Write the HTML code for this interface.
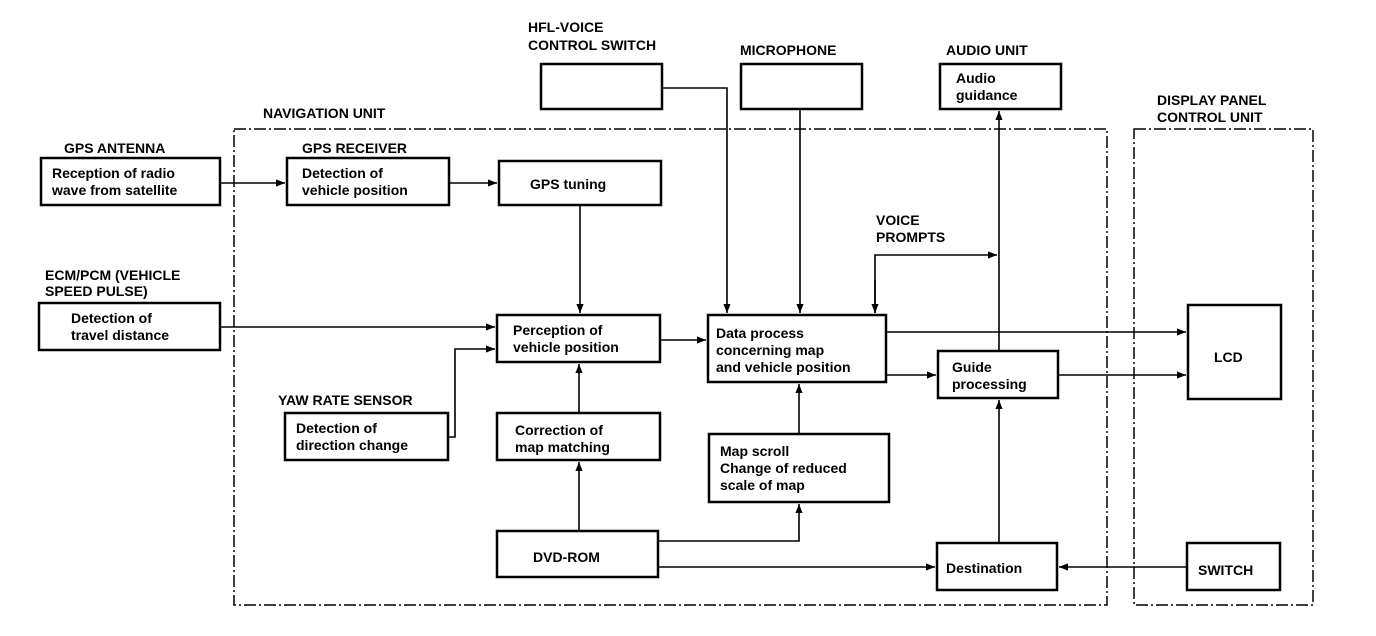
<!DOCTYPE html>
<html><head><meta charset="utf-8"><style>
html,body{margin:0;padding:0;background:#fff;}
svg{display:block;}
text{font-family:"Liberation Sans",Arial,sans-serif;font-weight:bold;font-size:14px;fill:#000;}
.b{fill:#fff;stroke:#000;stroke-width:2.5;}
.l{stroke:#000;stroke-width:1.6;fill:none;}
.d{stroke:#000;stroke-width:1.5;fill:none;stroke-dasharray:12 3 2 3;}
</style></head><body>
<svg width="1376" height="636" viewBox="0 0 1376 636" xmlns="http://www.w3.org/2000/svg">
<defs><marker id="a" viewBox="0 0 10 10" refX="10" refY="5" markerWidth="16" markerHeight="9" markerUnits="userSpaceOnUse" orient="auto"><path d="M0,1 L10,5 L0,9 z" fill="#000"/></marker></defs>

<!-- dashed units -->
<rect class="d" x="234" y="129" width="873" height="476"/>
<rect class="d" x="1134" y="129" width="179" height="476"/>

<!-- labels -->
<text x="528" y="32">HFL-VOICE</text>
<text x="528" y="50">CONTROL SWITCH</text>
<text x="740" y="55">MICROPHONE</text>
<text x="946" y="55">AUDIO UNIT</text>
<text x="1157" y="105">DISPLAY PANEL</text>
<text x="1157" y="122">CONTROL UNIT</text>
<text x="263" y="118">NAVIGATION UNIT</text>
<text x="64" y="153">GPS ANTENNA</text>
<text x="302" y="153">GPS RECEIVER</text>
<text x="45" y="280">ECM/PCM (VEHICLE</text>
<text x="45" y="296">SPEED PULSE)</text>
<text x="278" y="405">YAW RATE SENSOR</text>
<text x="876" y="225">VOICE</text>
<text x="876" y="242">PROMPTS</text>

<!-- boxes -->
<rect class="b" x="541" y="64" width="121" height="45"/>
<rect class="b" x="741" y="64" width="121" height="45"/>
<rect class="b" x="940" y="64" width="121" height="45"/>
<text x="956" y="83">Audio</text><text x="956" y="100">guidance</text>

<rect class="b" x="41" y="158" width="179" height="47"/>
<text x="52" y="178">Reception of radio</text><text x="52" y="195">wave from satellite</text>
<rect class="b" x="287" y="158" width="162" height="47"/>
<text x="302" y="178">Detection of</text><text x="302" y="195">vehicle position</text>
<rect class="b" x="499" y="161" width="162" height="44"/>
<text x="530" y="189">GPS tuning</text>

<rect class="b" x="39" y="303" width="181" height="47"/>
<text x="71" y="323">Detection of</text><text x="71" y="340">travel distance</text>
<rect class="b" x="497" y="315" width="163" height="47"/>
<text x="513" y="335">Perception of</text><text x="513" y="352">vehicle position</text>
<rect class="b" x="285" y="413" width="163" height="47"/>
<text x="296" y="433">Detection of</text><text x="296" y="450">direction change</text>
<rect class="b" x="497" y="413" width="163" height="47"/>
<text x="515" y="435">Correction of</text><text x="515" y="452">map matching</text>
<rect class="b" x="497" y="531" width="161" height="46"/>
<text x="533" y="562">DVD-ROM</text>

<rect class="b" x="708" y="315" width="178" height="67"/>
<text x="716" y="338">Data process</text><text x="716" y="355">concerning map</text><text x="716" y="372">and vehicle position</text>
<rect class="b" x="709" y="434" width="180" height="68"/>
<text x="720" y="456">Map scroll</text><text x="720" y="473">Change of reduced</text><text x="720" y="490">scale of map</text>
<rect class="b" x="938" y="351" width="120" height="47"/>
<text x="952" y="372">Guide</text><text x="952" y="389">processing</text>
<rect class="b" x="937" y="543" width="120" height="47"/>
<text x="946" y="573">Destination</text>
<rect class="b" x="1188" y="305" width="93" height="94"/>
<text x="1214" y="362">LCD</text>
<rect class="b" x="1187" y="543" width="93" height="47"/>
<text x="1198" y="575">SWITCH</text>

<!-- connectors -->
<line class="l" x1="220" y1="183" x2="285" y2="183" marker-end="url(#a)"/>
<line class="l" x1="449" y1="183" x2="497" y2="183" marker-end="url(#a)"/>
<line class="l" x1="580" y1="205" x2="580" y2="313" marker-end="url(#a)"/>
<line class="l" x1="220" y1="327" x2="495" y2="327" marker-end="url(#a)"/>
<polyline class="l" points="448,437 455,437 455,349 495,349" marker-end="url(#a)"/>
<line class="l" x1="579" y1="413" x2="579" y2="364" marker-end="url(#a)"/>
<line class="l" x1="579" y1="531" x2="579" y2="462" marker-end="url(#a)"/>
<line class="l" x1="660" y1="340" x2="706" y2="340" marker-end="url(#a)"/>
<polyline class="l" points="662,88 727,88 727,313" marker-end="url(#a)"/>
<line class="l" x1="800" y1="109" x2="800" y2="313" marker-end="url(#a)"/>
<polyline class="l" points="875,313 875,255 997,255" marker-end="url(#a)"/>
<line class="l" x1="875" y1="280" x2="875" y2="313" marker-end="url(#a)"/>
<line class="l" x1="999" y1="351" x2="999" y2="111" marker-end="url(#a)"/>
<line class="l" x1="886" y1="332" x2="1186" y2="332" marker-end="url(#a)"/>
<line class="l" x1="886" y1="375" x2="936" y2="375" marker-end="url(#a)"/>
<line class="l" x1="1058" y1="375" x2="1186" y2="375" marker-end="url(#a)"/>
<line class="l" x1="799" y1="434" x2="799" y2="384" marker-end="url(#a)"/>
<polyline class="l" points="658,541 799,541 799,504" marker-end="url(#a)"/>
<line class="l" x1="658" y1="567" x2="935" y2="567" marker-end="url(#a)"/>
<line class="l" x1="999" y1="543" x2="999" y2="400" marker-end="url(#a)"/>
<line class="l" x1="1187" y1="567" x2="1059" y2="567" marker-end="url(#a)"/>
</svg>
</body></html>
